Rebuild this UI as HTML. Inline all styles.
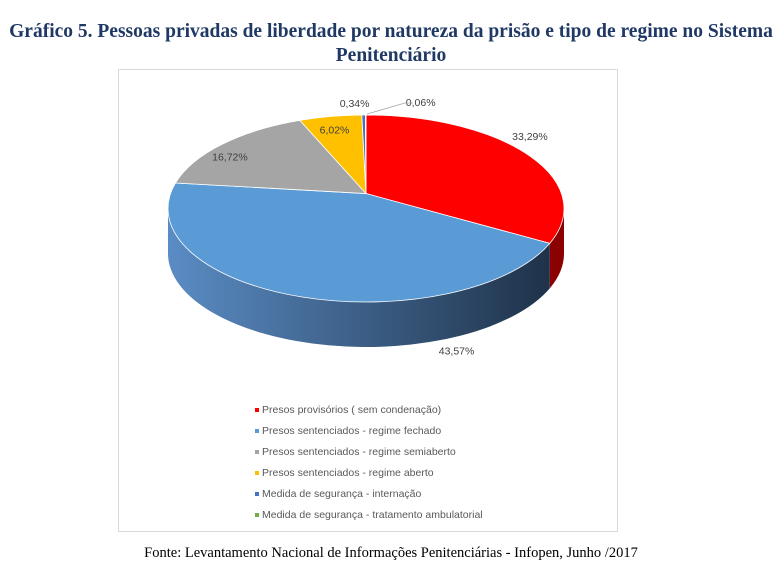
<!DOCTYPE html>
<html><head><meta charset="utf-8"><style>
body{margin:0;background:#fff;width:782px;height:567px;overflow:hidden;position:relative;font-family:"Liberation Serif",serif}
.t{position:absolute;left:0;width:782px;text-align:center;color:#1f3864;font-weight:bold;font-size:19.5px}
</style></head><body>
<div class="t" style="top:21px">Gráfico 5. Pessoas privadas de liberdade por natureza da prisão e tipo de regime no Sistema</div>
<div class="t" style="top:45px">Penitenciário</div>
<div style="position:absolute;left:118px;top:69px;width:498px;height:461px;border:1px solid #d9d9d9"></div>
<svg id="c" width="782" height="567" style="position:absolute;left:0;top:0">
<defs><linearGradient id="bg" x1="0" x2="1" y1="0" y2="0"><stop offset="0" stop-color="#5a8cc4"/><stop offset="1" stop-color="#1f3249"/></linearGradient></defs>
</svg>
<div style="position:absolute;left:0;width:782px;text-align:center;top:545px;font-size:14.5px;color:#000">Fonte: Levantamento Nacional de Informações Penitenciárias - Infopen, Junho /2017</div>
<script>
const categories=["Presos provisórios ( sem condenação)","Presos sentenciados - regime fechado","Presos sentenciados - regime semiaberto","Presos sentenciados - regime aberto","Medida de segurança - internação","Medida de segurança - tratamento ambulatorial"];
const values=[33.29,43.57,16.72,6.02,0.34,0.06];
const labels=["33,29%","43,57%","16,72%","6,02%","0,34%","0,06%"];
const colors=["#ff0000","#5b9bd5","#a5a5a5","#ffc000","#4472c4","#70ad47"];
const sideColors=["#8b0000","url(#bg)","#6b6b6b","#a07800","#2c4a80","#497030"];
const labelOff=[[8,-11],[162,59],[6,17],[4,17],[-9,-8],[55,-9]];
const svg=document.getElementById('c');
const NS="http://www.w3.org/2000/svg";
const cx=366,cy=208.5,rx=198,ry=93.5,depth=45,v0=-0.16;
function pt(t,dy){const r=t*Math.PI/180;return [cx+rx*Math.sin(r),cy-ry*Math.cos(r)+(dy||0)];}
// convert data angle (from apex) to ellipse param angle
function phi(t){const r=t*Math.PI/180,dx=Math.sin(r),dy=-Math.cos(r);
  const b=2*v0*dy,c=v0*v0-1;const s=(-b+Math.sqrt(b*b-4*c))/2;
  const u=s*dx,v=v0+s*dy;let p=Math.atan2(u,-v)*180/Math.PI;if(p<0)p+=360;if(t>=359.999)p=360;return p;}
const apex=[cx,cy+v0*ry];
const total=values.reduce((a,b)=>a+b,0);
let acc=0;const sl=values.map(v=>{const a=acc/total*360;acc+=v;const b=acc/total*360;return [phi(a),b>=359.999?360:phi(b),(a+b)/2];});
sl.forEach(([a,b],i)=>{
  const s=Math.max(a,90),e=Math.min(b,270);if(e<=s)return;
  const p1=pt(s),p2=pt(e),p3=pt(e,depth),p4=pt(s,depth);
  const p=document.createElementNS(NS,'path');
  p.setAttribute('d',`M${p1} A${rx},${ry} 0 0 1 ${p2} L${p3} A${rx},${ry} 0 0 0 ${p4} Z`);
  p.setAttribute('fill',sideColors[i]);
  
  
  svg.appendChild(p);
});
sl.forEach(([a,b],i)=>{
  const p1=pt(a),p2=pt(b);const large=(b-a)>180?1:0;
  const p=document.createElementNS(NS,'path');
  p.setAttribute('d',`M${apex} L${p1} A${rx},${ry} 0 ${large} 1 ${p2} Z`);
  p.setAttribute('fill',colors[i]);p.setAttribute('stroke','#fff');p.setAttribute('stroke-width','0.8');
  
  
  svg.appendChild(p);
});
sl.forEach(([a,b,m],i)=>{
  const q=pt(phi(m));
  const t=document.createElementNS(NS,'text');
  t.setAttribute('x',q[0]+labelOff[i][0]);t.setAttribute('y',q[1]+labelOff[i][1]);t.setAttribute('text-anchor','middle');
  t.setAttribute('font-family','Liberation Sans, sans-serif');t.setAttribute('font-size','10.5');t.setAttribute('fill','#404040');
  t.textContent=labels[i];
  
  
  svg.appendChild(t);
});
const ll=document.createElementNS(NS,'polyline');
ll.setAttribute('points','367,114 405,103 413,103');ll.setAttribute('fill','none');ll.setAttribute('stroke','#a6a6a6');ll.setAttribute('stroke-width','0.8');


svg.appendChild(ll);
categories.forEach((c,i)=>{
  const y=413+i*21;
  const r=document.createElementNS(NS,'rect');
  r.setAttribute('x',255);r.setAttribute('y',y-5);r.setAttribute('width',4);r.setAttribute('height',4);r.setAttribute('fill',colors[i]);
  
  
  svg.appendChild(r);
  const t=document.createElementNS(NS,'text');
  t.setAttribute('x',262);t.setAttribute('y',y);
  t.setAttribute('font-family','Liberation Sans, sans-serif');t.setAttribute('font-size','10.5');t.setAttribute('fill','#595959');
  t.textContent=c;
  
  
  svg.appendChild(t);
});
</script>
</body></html>
